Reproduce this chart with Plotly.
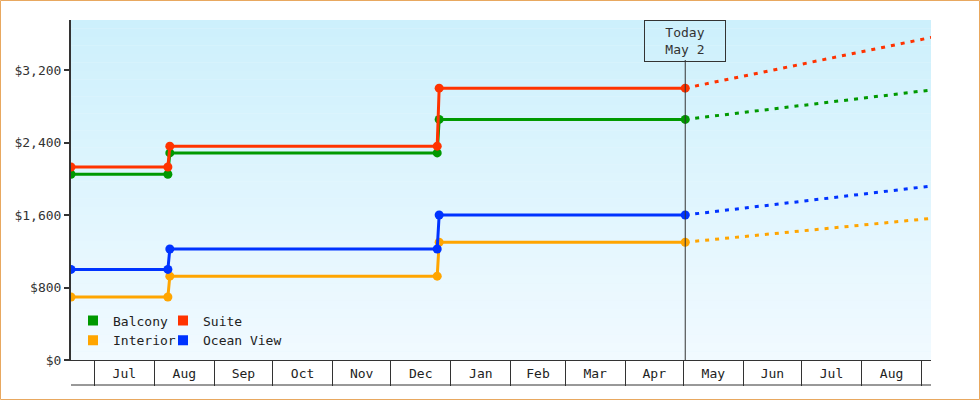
import plotly.graph_objects as go

# ---- data ----
dates = ["2024-06-19", "2024-08-08", "2024-08-09", "2024-12-25", "2024-12-26", "2025-05-02"]
balcony = [2050, 2050, 2285, 2285, 2655, 2655]
suite = [2130, 2130, 2360, 2360, 3000, 3000]
interior = [695, 695, 925, 925, 1300, 1300]
ocean_view = [1000, 1000, 1225, 1225, 1600, 1600]

forecast_dates = ["2025-05-02", "2025-06-01", "2025-07-01", "2025-08-01", "2025-09-06"]
balcony_fc = [2655, 2730, 2808, 2888, 2980]
suite_fc = [3000, 3132, 3264, 3401, 3560]
interior_fc = [1300, 1361, 1424, 1489, 1563]
ocean_view_fc = [1600, 1674, 1750, 1828, 1920]

series_names = ["Balcony", "Suite", "Interior", "Ocean View"]
series_colors = ["#009900", "#ff3300", "#ffa500", "#0033ff"]
series_hist = [balcony, suite, interior, ocean_view]
series_fc = [balcony_fc, suite_fc, interior_fc, ocean_view_fc]
legend_ids = ["legend", "legend2", "legend", "legend2"]

today = "2025-05-02"
today_label = "Today<br>May 2"
y_ticks = [0, 800, 1600, 2400, 3200]
x_range = ["2024-06-19", "2025-09-05 20:00"]
y_range = [0, 3752]

FONT = "DejaVu Sans Mono"
INK = "#333333"

fig = go.Figure()

for name, color, hist, fc in zip(series_names, series_colors, series_hist, series_fc):
    fig.add_trace(go.Scatter(
        x=forecast_dates, y=fc, mode="lines",
        line=dict(color=color, width=3, dash="4px,6px"),
        showlegend=False, hoverinfo="skip"))
for name, color, hist, fc in zip(series_names, series_colors, series_hist, series_fc):
    fig.add_trace(go.Scatter(
        x=dates, y=hist, mode="lines+markers", name=name,
        line=dict(color=color, width=3),
        marker=dict(color=color, size=9, symbol="circle"),
        showlegend=False))
# legend swatches
for name, color, lg in zip(series_names, series_colors, legend_ids):
    fig.add_trace(go.Scatter(
        x=[None], y=[None], mode="markers", name=name,
        marker=dict(color=color, size=10, symbol="square", line=dict(width=0)),
        legend=lg, showlegend=True))

# gradient background stripes
shapes = []
n = 40
top = (205, 240, 252)
bot = (241, 250, 255)
for i in range(n):
    t = i / (n - 1)
    c = tuple(round(top[k] + (bot[k] - top[k]) * t) for k in range(3))
    shapes.append(dict(type="rect", xref="paper", yref="paper",
                       x0=0, x1=1, y0=1 - (i + 1) / n, y1=1 - i / n,
                       fillcolor="rgb(%d,%d,%d)" % c, line=dict(width=0), layer="below"))

PW, PH, L, T = 860, 340, 71, 20
# today line
shapes.append(dict(type="line", xref="x", yref="paper", x0=today, x1=today,
                   y0=0, y1=1 - 40 / PH, line=dict(color=INK, width=1)))
# bottom band line
shapes.append(dict(type="line", xref="paper", yref="paper", x0=0, x1=1,
                   y0=-25 / PH, y1=-25 / PH, line=dict(color=INK, width=1)))
# outer frame
shapes.append(dict(type="rect", xref="paper", yref="paper",
                   x0=(0.5 - L) / PW, x1=(979.5 - L) / PW,
                   y0=(T + PH - 399.5) / PH, y1=(T + PH - 0.5) / PH,
                   line=dict(color="#e8a860", width=1), fillcolor="rgba(0,0,0,0)"))

fig.update_layout(
    width=980, height=400,
    margin=dict(l=71, r=49, t=20, b=40),
    paper_bgcolor="white", plot_bgcolor="#e6f7fd",
    font=dict(family=FONT, size=13, color=INK),
    shapes=shapes,
    xaxis=dict(type="date", range=x_range, tick0="2024-07-01", dtick="M1",
               tickformat="%b", ticklabelmode="period", ticks="outside",
               ticklen=25, tickwidth=1, tickcolor=INK, showline=True,
               linecolor=INK, linewidth=1, showgrid=False, zeroline=False,
               ticklabelstandoff=-24, tickfont=dict(family=FONT, size=13, color="#222")),
    yaxis=dict(range=y_range, tickvals=y_ticks, tickformat="$,", ticks="outside",
               ticklen=5, tickwidth=2, tickcolor=INK, showline=True, linecolor=INK,
               linewidth=2, showgrid=False, zeroline=False,
               tickfont=dict(family=FONT, size=13, color=INK)),
    legend=dict(x=(73 - L) / PW, y=(T + PH - 305.5) / PH, xanchor="left", yanchor="top",
                bgcolor="rgba(0,0,0,0)", borderwidth=0, orientation="v",
                font=dict(family=FONT, size=13, color="#222"), tracegroupgap=0),
    legend2=dict(x=(163 - L) / PW, y=(T + PH - 305.5) / PH, xanchor="left", yanchor="top",
                 bgcolor="rgba(0,0,0,0)", borderwidth=0, orientation="v",
                 font=dict(family=FONT, size=13, color="#222"), tracegroupgap=0),
    annotations=[dict(x=today, y=1, xref="x", yref="paper", xanchor="center",
                      yanchor="top", text=today_label, showarrow=False,
                      font=dict(family=FONT, size=13, color=INK),
                      bordercolor=INK, borderwidth=1, borderpad=2,
                      width=76, height=36, bgcolor="rgba(0,0,0,0)")],
    showlegend=True,
)

fig.write_html("out.html", config={"displayModeBar": False},
               post_script="document.body.style.margin='0';")
